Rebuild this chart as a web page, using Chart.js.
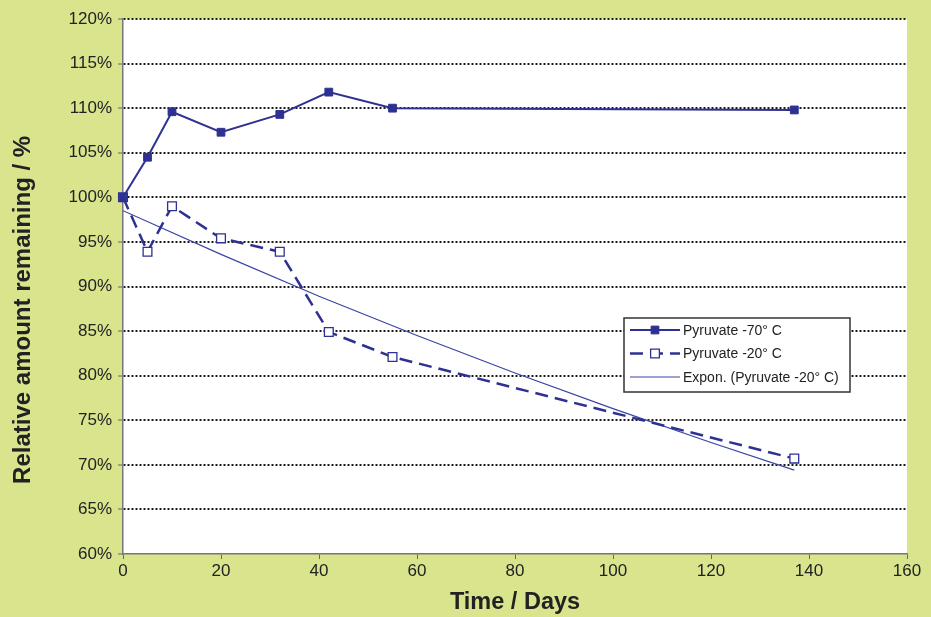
<!DOCTYPE html>
<html>
<head>
<meta charset="utf-8">
<script src="https://cdn.jsdelivr.net/npm/chart.js@4.4.1/dist/chart.umd.min.js"></script>
<style>
  html, body { margin: 0; padding: 0; background: #d9e48d; }
  #chart { display: block; }
</style>
</head>
<body>
<canvas id="chart" width="931" height="617"></canvas>
<script>
  // data
  const days = [0, 5, 10, 20, 32, 42, 55, 137];
  const pyruvate70 = [100, 104.5, 109.6, 107.3, 109.3, 111.8, 110.0, 109.8];
  const pyruvate20 = [100, 93.9, 99.0, 95.4, 93.9, 84.9, 82.1, 70.7];
  const trendDays = [0, 20, 40, 60, 80, 100, 120, 137];
  const trendValues = [98.5, 93.6, 88.9, 84.5, 80.3, 76.3, 72.5, 69.4];

  const yTicks = [60, 65, 70, 75, 80, 85, 90, 95, 100, 105, 110, 115, 120];
  const xTicks = [0, 20, 40, 60, 80, 100, 120, 140, 160];

  const NAVY = "#2e3192";
  const FONT = '"Liberation Sans", Arial, Helvetica, sans-serif';

  const toPoints = (xs, ys) => xs.map((x, i) => ({ x: x, y: ys[i] }));

  // заливка фона canvas
  const background = {
    id: "background",
    beforeDraw(chart) {
      const { ctx, width, height, chartArea: a } = chart;
      ctx.save();
      ctx.fillStyle = "#d9e48d";
      ctx.fillRect(0, 0, width, height);
      ctx.fillStyle = "#ffffff";
      ctx.fillRect(a.left, a.top, a.right - a.left, a.bottom - a.top);
      ctx.restore();
    },
  };

  // легенда в рамке внутри графика
  const boxLegend = {
    id: "boxLegend",
    afterDraw(chart) {
      const { ctx } = chart;
      const box = { x: 624, y: 318, w: 226, h: 74 };
      ctx.save();
      ctx.fillStyle = "#ffffff";
      ctx.fillRect(box.x, box.y, box.w, box.h);
      ctx.strokeStyle = "#333333";
      ctx.lineWidth = 1.5;
      ctx.strokeRect(box.x, box.y, box.w, box.h);

      chart.data.datasets.forEach((ds, i) => {
        const y = box.y + 12 + i * 23.5;
        ctx.save();
        ctx.strokeStyle = ds.borderColor;
        ctx.lineWidth = ds.borderWidth;
        ctx.setLineDash(ds.borderDash || []);
        ctx.beginPath();
        ctx.moveTo(box.x + 6, y);
        ctx.lineTo(box.x + 56, y);
        ctx.stroke();
        ctx.restore();
        if (ds.pointRadius > 0) {
          ctx.save();
          ctx.fillStyle = ds.pointBackgroundColor;
          ctx.strokeStyle = ds.pointBorderColor;
          ctx.lineWidth = ds.pointBorderWidth;
          Chart.helpers.drawPoint(
            ctx,
            { pointStyle: "rect", radius: ds.pointRadius, borderWidth: ds.pointBorderWidth },
            box.x + 31,
            y,
          );
          ctx.restore();
        }
        ctx.fillStyle = "#222222";
        ctx.font = "14px " + FONT;
        ctx.textBaseline = "middle";
        ctx.textAlign = "left";
        ctx.fillText(ds.label, box.x + 59, y + 1);
      });
      ctx.restore();
    },
  };

  new Chart(document.getElementById("chart"), {
    type: "scatter",
    data: {
      datasets: [
        {
          label: "Pyruvate -70° C",
          data: toPoints(days, pyruvate70),
          showLine: true,
          borderColor: NAVY,
          borderWidth: 2,
          pointStyle: "rect",
          pointRadius: 5.5,
          pointBackgroundColor: NAVY,
          pointBorderColor: NAVY,
          pointBorderWidth: 1,
          clip: false,
        },
        {
          label: "Pyruvate -20° C",
          data: toPoints(days, pyruvate20),
          showLine: true,
          borderColor: NAVY,
          borderWidth: 2.5,
          borderDash: [13, 7],
          pointStyle: "rect",
          pointRadius: 6.2,
          pointBackgroundColor: "#ffffff",
          pointBorderColor: NAVY,
          pointBorderWidth: 1.3,
          clip: false,
        },
        {
          label: "Expon. (Pyruvate -20° C)",
          data: toPoints(trendDays, trendValues),
          showLine: true,
          borderColor: "#3a44a6",
          borderWidth: 1.2,
          pointRadius: 0,
          pointHoverRadius: 0,
        },
      ],
    },
    options: {
      responsive: false,
      animation: false,
      events: [],
      layout: { padding: { top: 19, right: 24, left: 0, bottom: 0 } },
      plugins: {
        legend: { display: false },
        tooltip: { enabled: false },
      },
      scales: {
        x: {
          type: "linear",
          min: 0,
          max: 160,
          afterFit: (s) => { s.height = 63; },
          afterBuildTicks: (s) => { s.ticks = xTicks.map((v) => ({ value: v })); },
          grid: {
            drawOnChartArea: false,
            drawTicks: true,
            tickLength: 5,
            tickColor: "#666666",
            lineWidth: 1,
          },
          border: { display: true, color: "#777777", width: 1.5 },
          ticks: {
            color: "#222222",
            font: { family: FONT, size: 17 },
            padding: 2,
            maxRotation: 0,
          },
          title: {
            display: true,
            text: "Time / Days",
            color: "#222222",
            font: { family: FONT, size: 23.5, weight: "bold" },
            padding: { top: 0, bottom: 0 },
          },
        },
        y: {
          type: "linear",
          min: 60,
          max: 120,
          afterFit: (s) => { s.width = 123; },
          afterBuildTicks: (s) => { s.ticks = yTicks.map((v) => ({ value: v })); },
          grid: {
            color: (c) => (c.tick && c.tick.value === 60 ? "transparent" : "#1a1a1a"),
            lineWidth: 2,
            drawTicks: true,
            tickLength: 5,
            tickColor: "#666666",
            tickWidth: 1,
            tickBorderDash: [],
          },
          // dash = пунктир линий сетки
          border: { display: true, color: "#777777", width: 1.5, dash: [2, 2] },
          ticks: {
            color: "#222222",
            font: { family: FONT, size: 17 },
            padding: 6,
            callback: (v) => v + "%",
          },
          title: {
            display: true,
            text: "Relative amount remaining / %       ",
            color: "#222222",
            font: { family: FONT, size: 24, weight: "bold" },
            padding: { top: 9, bottom: 0 },
          },
        },
      },
    },
    plugins: [background, boxLegend],
  });
</script>
</body>
</html>
